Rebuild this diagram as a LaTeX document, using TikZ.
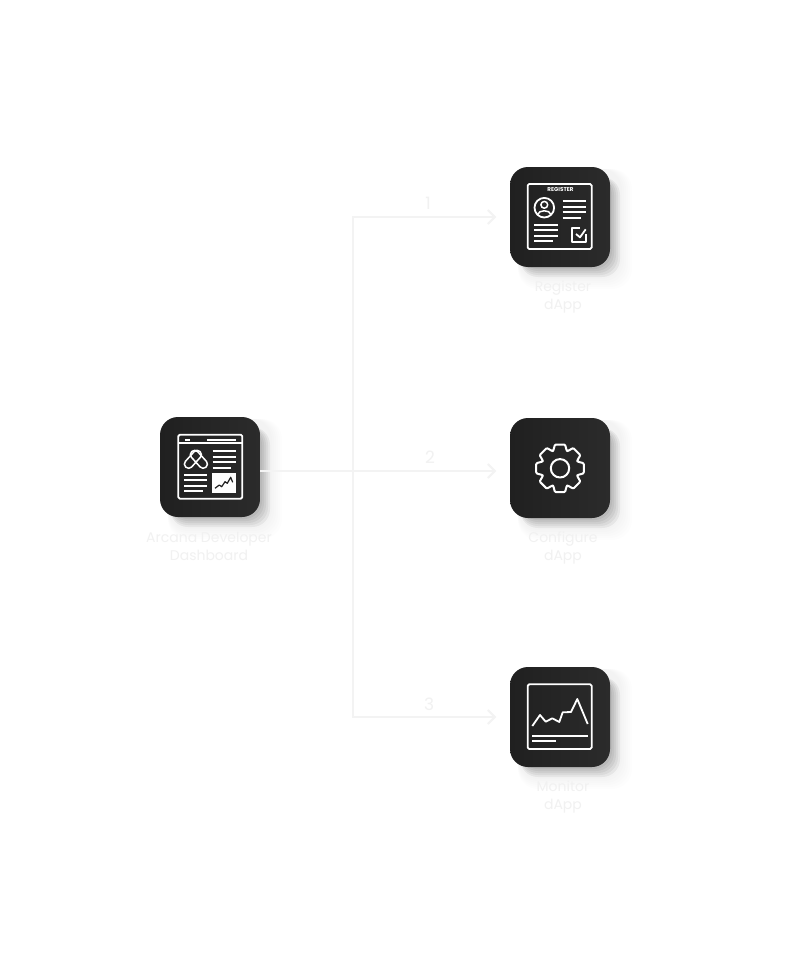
\documentclass[tikz,border=0pt]{standalone}
\usepackage{fontspec}
\setmainfont{Poppins}
\usetikzlibrary{arrows.meta,calc}
\definecolor{tiledark}{HTML}{202020}
\definecolor{tilelight}{HTML}{2B2B2B}
\definecolor{palegrey}{HTML}{F3F3F3}
\definecolor{paletext}{HTML}{F1F1F1}
\tikzset{>={Straight Barb[length=7pt,width=14pt]}}
\tikzset{
  tile/.style={rectangle,rounded corners=18pt,minimum size=100pt,inner sep=0pt,
    left color=tiledark,right color=tilelight},
  flowline/.style={draw=palegrey,line width=2pt},
  flow/.style={->,flowline,shorten >=13.5pt},
  caption/.style={text=paletext,align=center,inner sep=0pt,
    font=\fontsize{14}{18}\selectfont},
  stepnum/.style={text=paletext,inner sep=0pt,font=\fontsize{17}{20}\selectfont},
  icon/.style={draw=white,line width=1.8pt,line join=round},
  iconline/.style={draw=white,line width=1.7pt}
}
\newcommand*{\tileshadow}[2]
  {\foreach \e in {22,20,...,12}
     \fill[black,opacity=0.008,rounded corners=20pt] (#1-42,#2-48) rectangle (#1+50+\e,#2+50+\e);
   \foreach \e in {10,8,6,4,2}
     \fill[black,opacity=0.05,rounded corners=18pt] (#1-40,#2-40) rectangle (#1+50+\e,#2+50+\e)}
\begin{document}
\begin{tikzpicture}[x=1pt,y=-1pt]
\fill[white] (0,0) rectangle (789,979);
\useasboundingbox (0,0) rectangle (789,979);
\tileshadow{210}{467};
\tileshadow{560}{217};
\tileshadow{560}{468};
\tileshadow{560}{717};
\node[tile] (dash) at (210,467) {};
\node[tile] (reg) at (560,217) {};
\node[tile] (conf) at (560,468) {};
\node[tile] (mon) at (560,717) {};
\coordinate (hub) at (353,471);
\draw[flowline] (dash.east |- hub) -- (hub);
\draw[flow] (hub) |- (reg.west);
\draw[flow] (hub) -- (hub -| conf.west);
\draw[flow] (hub) |- (mon.west);
\node[stepnum] (n1) at (428,203) {1};
\node[stepnum] (n2) at (430,457) {2};
\node[stepnum] (n3) at (429,704) {3};
\node[caption] (dashtxt) at (209,546.5) {Arcana Developer\\Dashboard};
\node[caption] (regtxt) at (563,296.5) {Register\\dApp};
\node[caption] (conftxt) at (563,547.5) {Configure\\dApp};
\node[caption] (montxt) at (563,796.5) {Monitor\\dApp};
% dashboard icon
\draw[icon,rounded corners=1.5pt] (178.3,434.7) rectangle (242.3,498.7);
\draw[iconline] (178.3,443.3) -- (242.3,443.3);
\draw[iconline] (185.3,439.7) -- (190,439.7);
\draw[iconline] (207.3,439.7) -- (236,439.7);
\draw[icon,line width=1.5pt,shift={(192.9,459.3)},rotate=-42,rounded corners=3.9pt] (-4.2,-10.5) rectangle (4.2,10.5);
\draw[icon,line width=1.5pt,shift={(198.9,459.3)},rotate=42,rounded corners=3.9pt] (-4.2,-10.5) rectangle (4.2,10.5);
\foreach \y/\xe in {451/236,456.7/236,462/236,467.7/230.7}
  \draw[iconline] (212.7,\y) -- (\xe,\y);
\foreach \y/\xe in {475/207.3,480.3/207.3,486/207.3,491.3/202.7}
  \draw[iconline] (184.3,\y) -- (\xe,\y);
\fill[white] (212.3,473.3) rectangle (235.7,492.7);
\draw[tiledark,line width=1.2pt,line join=round] (215,488.3) -- (219.3,485) -- (221.7,486.7)
  -- (225,481.7) -- (227.3,483.3) -- (230.7,477.3) -- (232.7,482.3);
% register icon
\draw[icon,rounded corners=1.5pt] (527.7,184) rectangle (591.7,249);
\node[text=white,inner sep=0pt,font=\bfseries\fontsize{5.6}{6}\selectfont] (regtitle) at (560.5,190) {REGISTER};
\draw[icon] (544.3,207.7) circle (9.8);
\draw[icon,line width=1.5pt] (544.3,204.8) circle (3.4);
\draw[icon,line width=1.5pt] (537.6,214.6) .. controls (538.5,209.5) and (550,209.5) .. (551,214.6);
\foreach \y/\xe in {201/586,206.7/586,212/586,217.7/580.7}
  \draw[iconline] (562.7,\y) -- (\xe,\y);
\foreach \y/\xe in {225/557.7,230.3/557.7,236/557.7,241.3/552.7}
  \draw[iconline] (534.3,\y) -- (\xe,\y);
\draw[icon] (580,227.7) -- (571.7,227.7) -- (571.7,241.7) -- (585.7,241.7) -- (585.7,234);
\draw[icon] (576,234) -- (580,237.3) -- (585.7,229.3);
% gear icon
\begin{scope}[shift={(560,468.3)}]
\draw[icon,line width=2pt,rounded corners=1pt] (-21:18.8)
  \foreach \a in {0,45,...,315} {
    -- ($(\a-21:18.8)$) -- ($(\a-12:24.3)$) -- ($(\a+12:24.3)$) -- ($(\a+21:18.8)$)
  } -- cycle;
\draw[icon,line width=2pt] (0,0) circle (9.2);
\end{scope}
% monitor icon
\draw[icon,rounded corners=1.5pt] (527.7,684.3) rectangle (591.7,749);
\draw[icon] (532.3,726) -- (540,715) -- (545.7,721.7) -- (552.3,718.3) -- (559.3,722)
  -- (562.7,712.3) -- (571,712) -- (577.3,699) -- (587.7,724);
\draw[iconline] (532.3,736) -- (588.3,736);
\draw[iconline] (532.3,741) -- (555.7,741);
\end{tikzpicture}
\end{document}
